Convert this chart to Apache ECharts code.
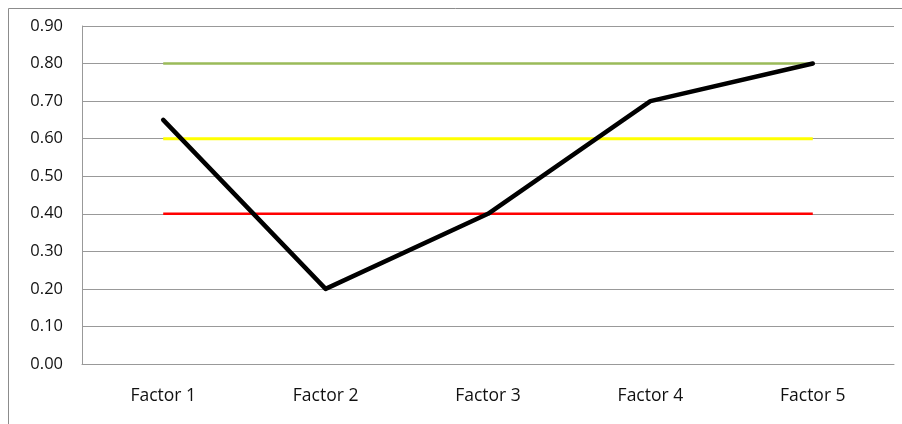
<!DOCTYPE html>
<html><head><meta charset="utf-8">
<script src="https://cdn.jsdelivr.net/npm/echarts@6/dist/echarts.min.js"></script>
<style>html,body{margin:0;padding:0;background:#fff}#c{width:902px;height:424px}</style>
</head><body><div id="c"></div>
<script>
const categories = ['Factor 1','Factor 2','Factor 3','Factor 4','Factor 5'];
const scoreValues = [0.65, 0.20, 0.40, 0.70, 0.80];
const greenLevel = [0.80, 0.80, 0.80, 0.80, 0.80];
const yellowLevel = [0.60, 0.60, 0.60, 0.60, 0.60];
const redLevel = [0.40, 0.40, 0.40, 0.40, 0.40];

const chart = echarts.init(document.getElementById('c'));
const font = '"Open Sans", "Liberation Sans", sans-serif';
function flat(data, color, w) {
  return {type:'line', data, symbol:'none', silent:true, lineStyle:{color, width:w}, z:2};
}
chart.setOption({
  animation:false,
  graphic:[{type:'rect', shape:{x:8.5,y:8.5,width:1000,height:1000}, style:{fill:'none', stroke:'#8c8c8c', lineWidth:1}, z:-1}],
  grid:{left:82, right:8, top:26, bottom:60, containLabel:false},
  xAxis:{type:'category', data:categories, boundaryGap:true,
    axisLine:{lineStyle:{color:'#999', width:1}}, axisTick:{show:false},
    axisLabel:{color:'#111', fontSize:17.5, fontFamily:font, margin:23}},
  yAxis:{type:'value', min:0, max:0.9, interval:0.1,
    axisLine:{show:true, lineStyle:{color:'#999'}}, axisTick:{show:false},
    splitLine:{lineStyle:{color:'#999', width:1}},
    axisLabel:{color:'#111', fontSize:16.5, fontFamily:font, margin:19, formatter:v=>v.toFixed(2)}},
  series:[
    flat(greenLevel, '#9BBB59', 2.5),
    flat(yellowLevel, '#FFFF00', 3),
    flat(redLevel, '#FF0000', 2.5),
    {type:'line', data:scoreValues, symbol:'none', lineStyle:{color:'#000', width:4.5, cap:'round', join:'round'}, z:3}
  ]
});
</script></body></html>
